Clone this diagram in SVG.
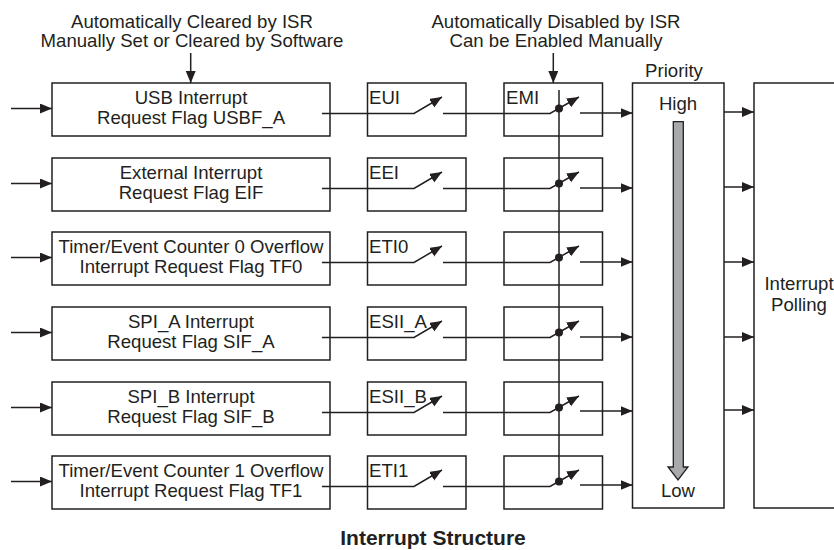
<svg xmlns="http://www.w3.org/2000/svg" width="834" height="550" viewBox="0 0 834 550">
<style>
text{font-family:"Liberation Sans",Arial,sans-serif;font-size:18.6px;fill:#231f20}
.c{text-anchor:middle}
.t{font-weight:bold;font-size:21px}
.box{fill:#fff;stroke:#231f20;stroke-width:1.5}
.ln{fill:none;stroke:#231f20;stroke-width:1.5}
.dot{fill:#231f20}
</style>
<defs>
<marker id="ah" markerUnits="userSpaceOnUse" markerWidth="13" markerHeight="11" refX="12" refY="5" orient="auto">
<path d="M0,0 L12,5 L0,10 z" fill="#231f20"/>
</marker>
</defs>
<rect width="834" height="550" fill="#fff"/>

<g id="note-left">
<text class="c" x="192" y="27.5">Automatically Cleared by ISR</text>
<text class="c" x="192" y="47">Manually Set or Cleared by Software</text>
</g>
<g id="note-right">
<text class="c" x="556" y="27.5">Automatically Disabled by ISR</text>
<text class="c" x="556" y="47">Can be Enabled Manually</text>
</g>

<g id="flag1"><rect class="box" x="52" y="83" width="278" height="53"/><text class="c" x="191" y="104">USB Interrupt</text><text class="c" x="191" y="124">Request Flag USBF_A</text></g>
<g id="flag2"><rect class="box" x="52" y="158" width="278" height="53"/><text class="c" x="191" y="179">External Interrupt</text><text class="c" x="191" y="199">Request Flag EIF</text></g>
<g id="flag3"><rect class="box" x="52" y="232" width="278" height="53"/><text class="c" x="191" y="253">Timer/Event Counter 0 Overflow</text><text class="c" x="191" y="273">Interrupt Request Flag TF0</text></g>
<g id="flag4"><rect class="box" x="52" y="307" width="278" height="53"/><text class="c" x="191" y="328">SPI_A Interrupt</text><text class="c" x="191" y="348">Request Flag SIF_A</text></g>
<g id="flag5"><rect class="box" x="52" y="382" width="278" height="53"/><text class="c" x="191" y="403">SPI_B Interrupt</text><text class="c" x="191" y="423">Request Flag SIF_B</text></g>
<g id="flag6"><rect class="box" x="52" y="456" width="278" height="53"/><text class="c" x="191" y="477">Timer/Event Counter 1 Overflow</text><text class="c" x="191" y="497">Interrupt Request Flag TF1</text></g>

<g id="en1"><rect class="box" x="367.5" y="83" width="98.5" height="53"/><text x="369" y="104">EUI</text></g>
<g id="en2"><rect class="box" x="367.5" y="158" width="98.5" height="53"/><text x="369" y="179">EEI</text></g>
<g id="en3"><rect class="box" x="367.5" y="232" width="98.5" height="53"/><text x="369" y="253">ETI0</text></g>
<g id="en4"><rect class="box" x="367.5" y="307" width="98.5" height="53"/><text x="369" y="328">ESII_A</text></g>
<g id="en5"><rect class="box" x="367.5" y="382" width="98.5" height="53"/><text x="369" y="403">ESII_B</text></g>
<g id="en6"><rect class="box" x="367.5" y="456" width="98.5" height="53"/><text x="369" y="477">ETI1</text></g>

<g id="emi1"><rect class="box" x="504" y="83" width="98.5" height="53"/><text x="506" y="104">EMI</text></g>
<g id="emi2"><rect class="box" x="504" y="158" width="98.5" height="53"/></g>
<g id="emi3"><rect class="box" x="504" y="232" width="98.5" height="53"/></g>
<g id="emi4"><rect class="box" x="504" y="307" width="98.5" height="53"/></g>
<g id="emi5"><rect class="box" x="504" y="382" width="98.5" height="53"/></g>
<g id="emi6"><rect class="box" x="504" y="456" width="98.5" height="53"/></g>

<g id="priority">
<text class="c" x="674" y="77">Priority</text>
<rect class="box" x="632.5" y="83" width="91.5" height="425"/>
<text class="c" x="678" y="110">High</text>
<path d="M673.3,121.7 H683.3 V467 H688 L678,480 L668,467 H673.3 Z" fill="#a7a9ac" stroke="#231f20" stroke-width="1.3"/>
<text class="c" x="678" y="497">Low</text>
</g>

<g id="polling">
<rect class="box" x="754" y="83" width="100" height="425"/>
<text class="c" x="799" y="290">Interrupt</text>
<text class="c" x="799" y="311">Polling</text>
</g>

<g id="title"><text class="c t" x="433" y="545">Interrupt Structure</text></g>

<g id="connectors">
<line class="ln" x1="190.7" y1="53" x2="190.7" y2="83" marker-end="url(#ah)"/>
<line class="ln" x1="553.3" y1="53" x2="553.3" y2="83" marker-end="url(#ah)"/>
<line class="ln" x1="559" y1="90" x2="559" y2="481.4"/>

<!-- row 1 -->
<line class="ln" x1="11" y1="108.5" x2="52" y2="108.5" marker-end="url(#ah)"/>
<polyline class="ln" points="322,113.5 414,113.5 442,97" marker-end="url(#ah)"/>
<polyline class="ln" points="443,113.5 550,113.5 579,97" marker-end="url(#ah)"/>
<circle class="dot" cx="559" cy="108.4" r="4"/>
<line class="ln" x1="580" y1="113" x2="632.5" y2="113" marker-end="url(#ah)"/>
<!-- row 2 -->
<line class="ln" x1="11" y1="183.5" x2="52" y2="183.5" marker-end="url(#ah)"/>
<polyline class="ln" points="322,188.5 414,188.5 442,172" marker-end="url(#ah)"/>
<polyline class="ln" points="443,188.5 550,188.5 579,172" marker-end="url(#ah)"/>
<circle class="dot" cx="559" cy="183.4" r="4"/>
<line class="ln" x1="580" y1="188" x2="632.5" y2="188" marker-end="url(#ah)"/>
<!-- row 3 -->
<line class="ln" x1="11" y1="257.5" x2="52" y2="257.5" marker-end="url(#ah)"/>
<polyline class="ln" points="322,262.5 414,262.5 442,246" marker-end="url(#ah)"/>
<polyline class="ln" points="443,262.5 550,262.5 579,246" marker-end="url(#ah)"/>
<circle class="dot" cx="559" cy="257.4" r="4"/>
<line class="ln" x1="580" y1="262" x2="632.5" y2="262" marker-end="url(#ah)"/>
<!-- row 4 -->
<line class="ln" x1="11" y1="332.5" x2="52" y2="332.5" marker-end="url(#ah)"/>
<polyline class="ln" points="322,337.5 414,337.5 442,321" marker-end="url(#ah)"/>
<polyline class="ln" points="443,337.5 550,337.5 579,321" marker-end="url(#ah)"/>
<circle class="dot" cx="559" cy="332.4" r="4"/>
<line class="ln" x1="580" y1="337" x2="632.5" y2="337" marker-end="url(#ah)"/>
<!-- row 5 -->
<line class="ln" x1="11" y1="407.5" x2="52" y2="407.5" marker-end="url(#ah)"/>
<polyline class="ln" points="322,412.5 414,412.5 442,396" marker-end="url(#ah)"/>
<polyline class="ln" points="443,412.5 550,412.5 579,396" marker-end="url(#ah)"/>
<circle class="dot" cx="559" cy="407.4" r="4"/>
<line class="ln" x1="580" y1="411" x2="632.5" y2="411" marker-end="url(#ah)"/>
<!-- row 6 -->
<line class="ln" x1="11" y1="481.5" x2="52" y2="481.5" marker-end="url(#ah)"/>
<polyline class="ln" points="322,486.5 414,486.5 442,470" marker-end="url(#ah)"/>
<polyline class="ln" points="443,486.5 550,486.5 579,470" marker-end="url(#ah)"/>
<circle class="dot" cx="559" cy="481.4" r="4"/>
<line class="ln" x1="580" y1="485" x2="632.5" y2="485" marker-end="url(#ah)"/>

<!-- priority to polling -->
<line class="ln" x1="724" y1="112" x2="754" y2="112" marker-end="url(#ah)"/>
<line class="ln" x1="724" y1="187" x2="754" y2="187" marker-end="url(#ah)"/>
<line class="ln" x1="724" y1="262" x2="754" y2="262" marker-end="url(#ah)"/>
<line class="ln" x1="724" y1="337" x2="754" y2="337" marker-end="url(#ah)"/>
<line class="ln" x1="724" y1="410" x2="754" y2="410" marker-end="url(#ah)"/>
</g>
</svg>
